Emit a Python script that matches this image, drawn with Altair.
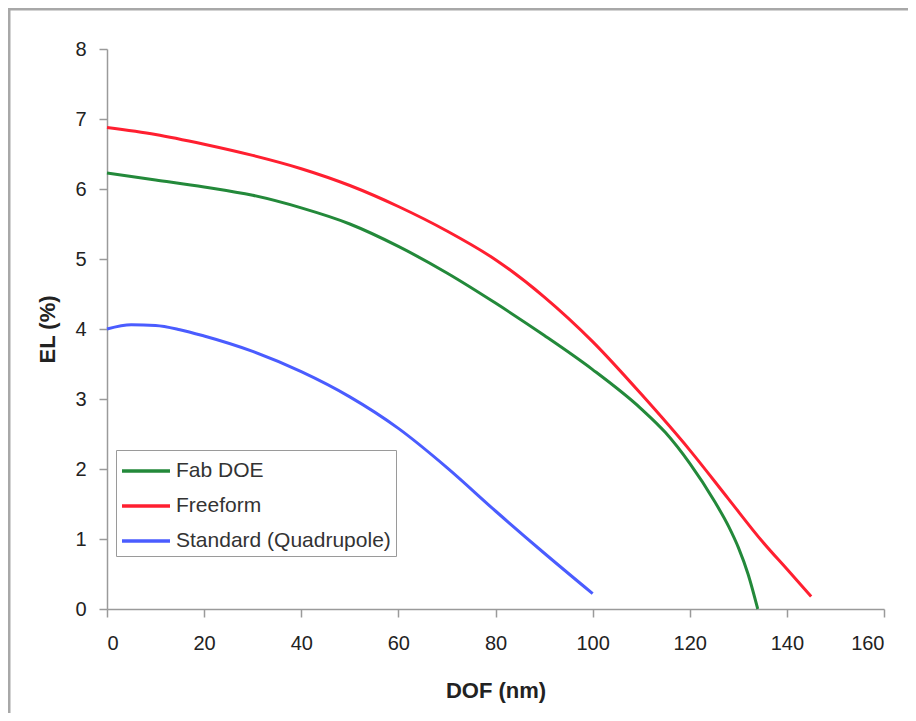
import altair as alt
import pandas as pd

# ---- data ----
fab_dof = [0, 10, 20, 30, 40, 50, 60, 70, 80, 90, 100, 110, 115, 120, 125, 128, 130, 132, 134]
fab_el = [6.23, 6.13, 6.03, 5.91, 5.73, 5.50, 5.18, 4.80, 4.37, 3.91, 3.42, 2.86, 2.52, 2.08, 1.55, 1.18, 0.88, 0.50, 0.0]

free_dof = [0, 10, 20, 30, 40, 50, 60, 70, 80, 90, 100, 110, 120, 128, 135, 140, 145]
free_el = [6.88, 6.78, 6.64, 6.48, 6.29, 6.05, 5.75, 5.40, 4.99, 4.46, 3.82, 3.07, 2.27, 1.57, 0.96, 0.57, 0.18]

std_dof = [0, 5, 10, 15, 20, 30, 40, 50, 60, 70, 80, 90, 100]
std_el = [4.00, 4.06, 4.05, 3.99, 3.90, 3.68, 3.39, 3.03, 2.58, 2.02, 1.40, 0.80, 0.22]

series = ["Fab DOE", "Freeform", "Standard (Quadrupole)"]
colors = ["#23893a", "#ff1f30", "#4a5cff"]

x_ticks = [0, 20, 40, 60, 80, 100, 120, 140, 160]
y_ticks = [0, 1, 2, 3, 4, 5, 6, 7, 8]

rows = []
for name, xs, ys in [(series[0], fab_dof, fab_el), (series[1], free_dof, free_el), (series[2], std_dof, std_el)]:
    for i, (a, b) in enumerate(zip(xs, ys)):
        rows.append({"series": name, "DOF": a, "EL": b, "order": i})
df = pd.DataFrame(rows)

FONT = "Liberation Sans"

lines = alt.Chart(df).mark_line(strokeWidth=3, interpolate="monotone").encode(
    x=alt.X("DOF:Q",
            scale=alt.Scale(domain=[0, 160], nice=False),
            axis=alt.Axis(values=x_ticks, title="DOF (nm)", grid=False,
                          domainColor="#9a9a9a", domainWidth=1.5,
                          tickColor="#9a9a9a", tickWidth=1.5, tickSize=8,
                          labelFont=FONT, labelFontSize=20, labelColor="#222222",
                          labelPadding=16,
                          titleFont=FONT, titleFontSize=22, titleFontWeight="bold",
                          titleColor="#222222", titleY=81, titleBaseline="middle")),
    y=alt.Y("EL:Q",
            scale=alt.Scale(domain=[0, 8], nice=False),
            axis=alt.Axis(values=y_ticks, title="EL (%)", grid=False,
                          domainColor="#9a9a9a", domainWidth=1.5,
                          tickColor="#9a9a9a", tickWidth=1.5, tickSize=8,
                          labelFont=FONT, labelFontSize=20, labelColor="#222222",
                          labelPadding=13,
                          titleFont=FONT, titleFontSize=22, titleFontWeight="bold",
                          titleColor="#222222", titleX=-60, titleY=280,
                          titleAngle=270, titleAlign="center", titleBaseline="middle")),
    color=alt.Color("series:N",
                    scale=alt.Scale(domain=series, range=colors),
                    legend=alt.Legend(orient="none", legendX=9, legendY=401, title=None,
                                      symbolType="M-1.714,0H1.714", symbolSize=784,
                                      symbolStrokeWidth=3.5, symbolOffset=9,
                                      labelOffset=14, rowPadding=9, padding=5,
                                      strokeColor="#9a9a9a", fillColor="white",
                                      labelFont=FONT, labelFontSize=21,
                                      labelColor="#333333", labelLimit=400)),
    order="order:Q",
)

frame = alt.Chart(pd.DataFrame({"k": [0]})).mark_rect(
    fillOpacity=0, stroke="#a8a8a8", strokeWidth=3
).encode(
    x=alt.value(-98), x2=alt.value(830), y=alt.value(-40), y2=alt.value(720)
)

chart = alt.layer(frame, lines).properties(
    width=777, height=560,
    autosize=alt.AutoSizeParams(type="none"),
    padding={"left": 99, "top": 41, "right": 24, "bottom": 104},
    background="white",
).configure_view(strokeWidth=0)

chart.save("out.html", embed_options={"renderer": "svg", "actions": False})
